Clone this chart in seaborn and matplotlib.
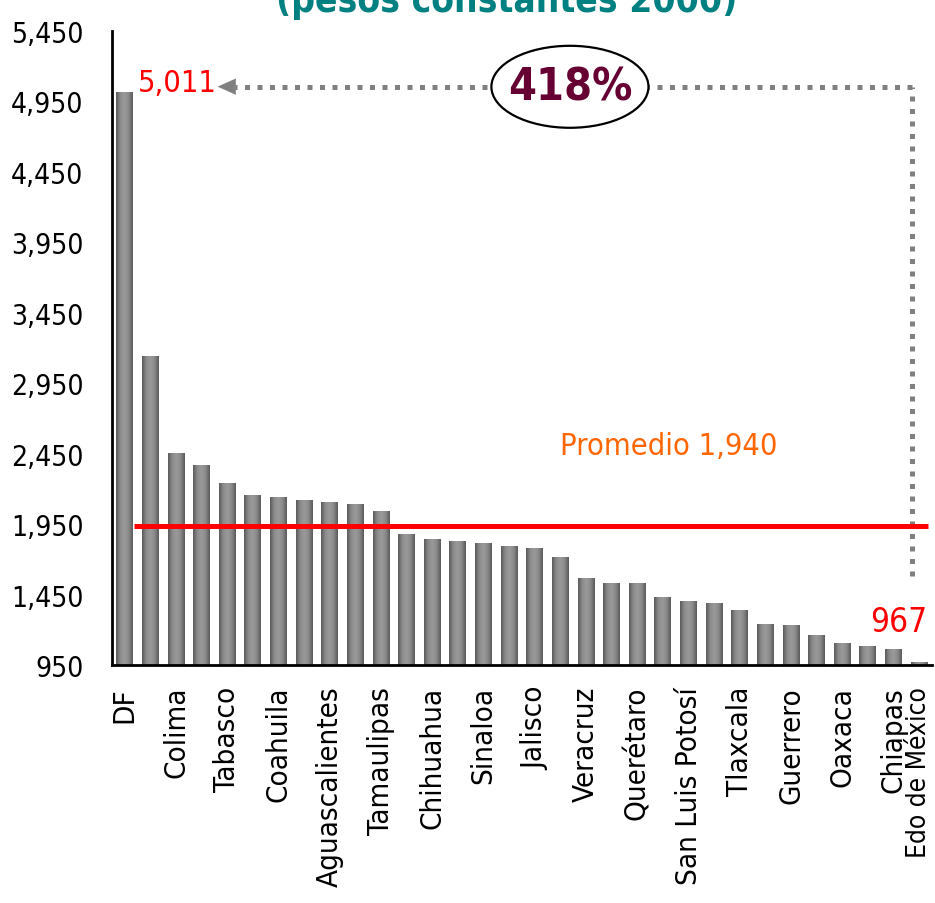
import numpy as np
import pandas as pd
import matplotlib
matplotlib.use("Agg")
import matplotlib.pyplot as plt
from matplotlib import font_manager
from matplotlib.patches import Ellipse
from matplotlib.colors import LinearSegmentedColormap
import seaborn as sns

# datos: valor por entidad (pesos constantes 2000), ordenado de mayor a menor
estados = [
    "DF", "Baja California Sur", "Colima", "Campeche", "Tabasco", "Quintana Roo",
    "Coahuila", "Nuevo León", "Aguascalientes", "Sonora", "Tamaulipas", "Nayarit",
    "Chihuahua", "Durango", "Sinaloa", "Zacatecas", "Jalisco", "Yucatán",
    "Veracruz", "Morelos", "Querétaro", "Baja California", "San Luis Potosí", "Hidalgo",
    "Tlaxcala", "Michoacán", "Guerrero", "Guanajuato", "Oaxaca", "Puebla",
    "Chiapas", "Edo de México",
]
valores = [
    5011, 3140, 2453, 2368, 2241, 2156,
    2141, 2120, 2106, 2092, 2042, 1879,
    1844, 1829, 1815, 1794, 1780, 1716,
    1567, 1532, 1532, 1432, 1404, 1390,
    1340, 1241, 1227, 1156, 1106, 1078,
    1057, 967,
]
promedio = 1940
y_ticks = [950, 1450, 1950, 2450, 2950, 3450, 3950, 4450, 4950, 5450]

# solo se ve una etiqueta si y una no
etiquetas = [e if i % 2 == 0 else "" for i, e in enumerate(estados)]
etiquetas[-1] = estados[-1]

df = pd.DataFrame({"estado": estados, "valor": valores})

sns.set_style("white")

# buscar una fuente angosta (tipo Arial Narrow); si no hay, Liberation Sans más chica
fuentes = font_manager.fontManager.ttflist
nombres = {f.name for f in fuentes}
estirar = "normal"
k = 1.0
if "Liberation Sans Narrow" in nombres:
    fam = "Liberation Sans Narrow"
elif any(f.name == "DejaVu Sans" and f.stretch in ("condensed", 300, "semi-condensed") for f in fuentes):
    fam = "DejaVu Sans"
    estirar = "condensed"
    k = 0.92
else:
    fam = "Liberation Sans"
    k = 0.84
plt.rcParams["font.family"] = [fam, "DejaVu Sans"]
plt.rcParams["font.stretch"] = estirar
plt.rcParams["text.color"] = "black"
plt.rcParams["xtick.color"] = "black"
plt.rcParams["ytick.color"] = "black"

fig = plt.figure(figsize=(9.35, 9.04), dpi=100)
ax = fig.add_axes([0.1198, 0.2633, 0.877, 0.7013])

sns.barplot(data=df, x="estado", y="valor", color="#808080", width=0.66,
            saturation=1, ax=ax, zorder=2)

# degradado tipo cilindro en cada barra
cmap = LinearSegmentedColormap.from_list("gris", ["#5a5a5a", "#8c8c8c", "#9a9a9a", "#8a8a8a", "#5a5a5a"])
grad = np.linspace(0, 1, 64).reshape(1, -1)
for p in ax.patches:
    x0, w, h = p.get_x(), p.get_width(), p.get_height()
    ax.imshow(grad, cmap=cmap, aspect="auto", extent=[x0, x0 + w, y_ticks[0], h],
              zorder=3, interpolation="bicubic")

ax.set_xlim(-0.5, len(estados) - 0.5)
ax.set_ylim(950, 5450)
ax.set_yticks(y_ticks)
ax.set_yticklabels([f"{v:,}" for v in y_ticks], fontsize=22 * k)
ax.set_xticks(range(len(estados)))
ax.set_xticklabels(etiquetas, rotation=90, fontsize=23 * k)
ax.get_xticklabels()[-1].set_fontsize(20.5 * k)
ax.set_xticks(np.arange(-0.5, len(estados)), minor=True)
ax.tick_params(axis="x", which="major", length=0, pad=15)
ax.tick_params(axis="x", which="minor", length=9, width=2, direction="out")
ax.tick_params(axis="y", length=8.6, width=2, direction="out", pad=12)
ax.set_xlabel("")
ax.set_ylabel("")
sns.despine(ax=ax)
for s in ["left", "bottom"]:
    ax.spines[s].set_linewidth(2)
    ax.spines[s].set_color("black")
    ax.spines[s].set_zorder(5)

# línea de promedio
ax.plot([0.36, 31.34], [promedio, promedio], color="red", lw=3.6, zorder=4,
        solid_capstyle="butt", clip_on=False)
ax.text(21.24, 2505, f"Promedio {promedio:,}", color="#ff6600", fontsize=24 * k,
        ha="center", va="center")

# flecha punteada de la brecha
gris = "#808080"
ax.plot([30.72, 30.72], [1580, 5055], color=gris, lw=3.6, ls=(0, (1, 1.5)),
        dash_capstyle="butt", zorder=1)
ax.plot([30.72, 4.3], [5055, 5055], color=gris, lw=3.6, ls=(0, (1, 1.5)),
        dash_capstyle="butt", zorder=1)
ax.annotate("", xy=(3.62, 5055), xytext=(4.32, 5055),
            arrowprops=dict(arrowstyle="-|>,head_length=1.3,head_width=0.58",
                            color=gris, lw=0.1, shrinkA=0, shrinkB=0))
ax.add_patch(Ellipse((17.37, 5054), 6.13, 582, facecolor="white",
                     edgecolor="black", lw=1.6, zorder=6))
ratio = round(valores[0] / valores[-1] * 100 - 100)
ax.text(17.37, 5054, f"{ratio}%", color="#660033", fontsize=35 * k,
        fontweight="bold", ha="center", va="center", zorder=7)

ax.text(0.5, 5085, f"{valores[0]:,}", color="red", fontsize=24 * k,
        ha="left", va="center")
ax.text(31.3, 1260, f"{valores[-1]:,}", color="red", fontsize=26 * k,
        ha="right", va="center")

# título cortado arriba, como en la imagen original
fig.text(0.5417, 0.9867, "(pesos constantes 2000)", color="#008080",
         fontsize=29 * k, fontweight="bold", ha="center", va="baseline")

fig.savefig("out.png", dpi=100)
